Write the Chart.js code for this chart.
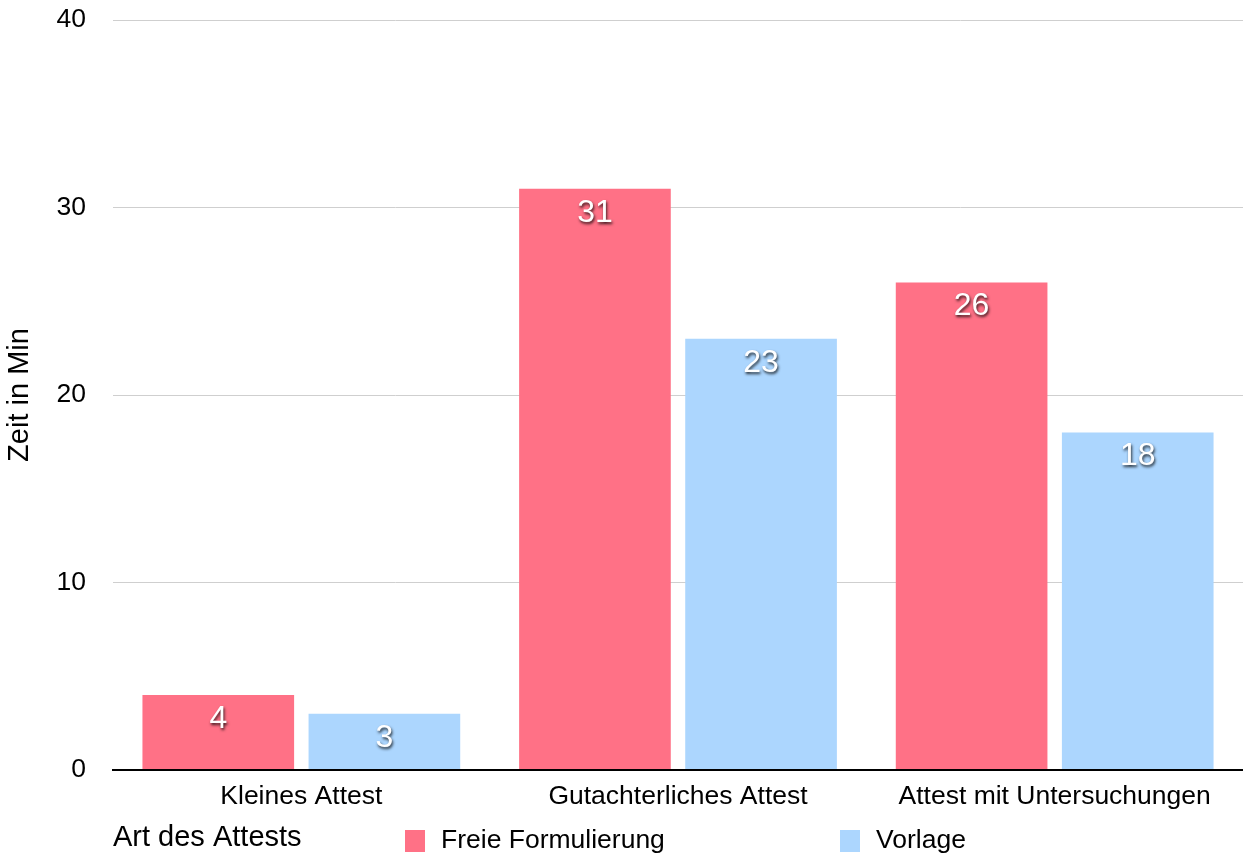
<!DOCTYPE html>
<html>
<head>
<meta charset="utf-8">
<script src="https://cdn.jsdelivr.net/npm/chart.js@4.4.1/dist/chart.umd.min.js"></script>
<style>
  html, body { margin: 0; padding: 0; background: #fff; }
  canvas { display: block; }
</style>
</head>
<body>
<canvas id="chart" width="1243" height="855"></canvas>
<script>
// ---- data ----
const categories = ['Kleines Attest', 'Gutachterliches Attest', 'Attest mit Untersuchungen'];
const seriesNames = ['Freie Formulierung', 'Vorlage'];
const freieFormulierung = [4, 31, 26];
const vorlage = [3, 23, 18];
const yTicks = [0, 10, 20, 30, 40];
const xAxisTitle = 'Art des Attests';
const yAxisTitle = 'Zeit in Min';

// ---- style ----
const FONT = "'Liberation Sans', Arial, Helvetica, sans-serif";
const RED = '#ff7186';
const BLUE = '#acd6fe';

Chart.defaults.font.family = FONT;
Chart.defaults.color = '#000';

// value labels inside the top of each bar, white with a soft dark shadow
const barValueLabels = {
  id: 'barValueLabels',
  afterDatasetsDraw(chart, args, opts) {
    const ctx = chart.ctx;
    ctx.save();
    ctx.font = `${opts.fontSize}px ${FONT}`;
    ctx.textAlign = 'center';
    ctx.textBaseline = 'middle';
    ctx.fillStyle = '#fff';
    ctx.shadowColor = 'rgba(0,0,0,0.8)';
    ctx.shadowBlur = 3;
    ctx.shadowOffsetX = 1;
    ctx.shadowOffsetY = 2;
    chart.data.datasets.forEach((ds, i) => {
      chart.getDatasetMeta(i).data.forEach((bar, j) => {
        ctx.fillText(String(ds.data[j]), bar.x, bar.y + opts.offset);
      });
    });
    ctx.restore();
  }
};

// legend drawn on the same row as the x axis title
const inlineLegend = {
  id: 'inlineLegend',
  afterDraw(chart, args, opts) {
    const ctx = chart.ctx;
    ctx.save();
    ctx.font = `${opts.fontSize}px ${FONT}`;
    ctx.textBaseline = 'middle';
    ctx.textAlign = 'left';
    chart.data.datasets.forEach((ds, i) => {
      const x = opts.xs[i];
      ctx.fillStyle = ds.backgroundColor;
      ctx.fillRect(x, opts.y - opts.boxH / 2, opts.boxW, opts.boxH);
      ctx.fillStyle = '#000';
      ctx.fillText(ds.label, x + opts.boxW + opts.gap, opts.y);
    });
    ctx.restore();
  }
};

new Chart(document.getElementById('chart'), {
  type: 'bar',
  data: {
    labels: categories,
    datasets: [
      { label: seriesNames[0], data: freieFormulierung, backgroundColor: RED },
      { label: seriesNames[1], data: vorlage, backgroundColor: BLUE }
    ]
  },
  plugins: [barValueLabels, inlineLegend],
  options: {
    responsive: false,
    animation: false,
    layout: { padding: { top: 20, right: -3, bottom: 0, left: 0 } },
    datasets: {
      bar: { categoryPercentage: 0.882, barPercentage: 0.913 }
    },
    scales: {
      x: {
        afterFit(scale) { scale.height = 85; },
        grid: { display: false, drawTicks: false },
        border: { display: true, color: '#000', width: 2 },
        ticks: { font: { size: 26.5 }, color: '#000', padding: 11 },
        title: {
          display: true,
          text: xAxisTitle,
          align: 'start',
          font: { size: 29 },
          color: '#000',
          padding: { top: 0, bottom: 0 }
        }
      },
      y: {
        min: 0,
        max: 40,
        afterFit(scale) {
          scale.width = 113;
          scale.paddingTop = 0;
          scale.paddingBottom = 0;
        },
        afterBuildTicks(scale) { scale.ticks = yTicks.map(v => ({ value: v })); },
        grid: {
          drawTicks: false,
          color: ctx => (ctx.tick && ctx.tick.value === 0) ? '#000' : '#cfcfcf',
          lineWidth: ctx => (ctx.tick && ctx.tick.value === 0) ? 2 : 1
        },
        border: { display: false },
        ticks: { font: { size: 26.5 }, color: '#000', padding: 27 },
        title: {
          display: true,
          text: yAxisTitle,
          font: { size: 29 },
          color: '#000',
          padding: { top: 3, bottom: 0 }
        }
      }
    },
    plugins: {
      legend: { display: false },
      tooltip: { enabled: false },
      barValueLabels: { fontSize: 32, offset: 24 },
      inlineLegend: { xs: [405, 840], y: 841, boxW: 20, boxH: 22, gap: 16, fontSize: 26.5 }
    }
  }
});
</script>
</body>
</html>
